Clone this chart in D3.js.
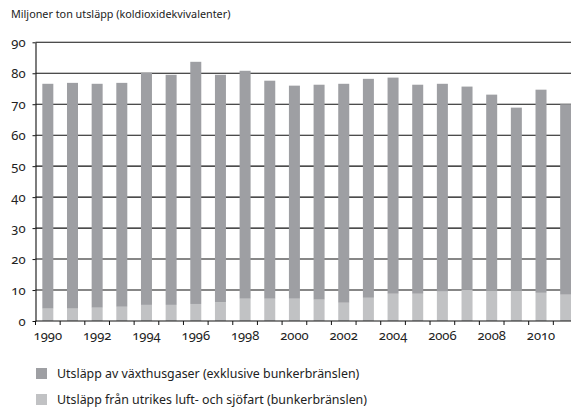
<!DOCTYPE html>
<html>
<head>
<meta charset="utf-8">
<script src="https://cdn.jsdelivr.net/npm/d3@7"></script>
<style>
  html, body { margin: 0; padding: 0; background: #fff; }
  svg { display: block; font-family: "Noto Sans", "Open Sans", sans-serif; }
  .num { font-variant-numeric: oldstyle-nums; font-feature-settings: "onum" 1; }
</style>
</head>
<body>
<div id="chart"></div>
<script>
// years shown on the x axis
var years = [1990, 1991, 1992, 1993, 1994, 1995, 1996, 1997, 1998, 1999, 2000,
             2001, 2002, 2003, 2004, 2005, 2006, 2007, 2008, 2009, 2010, 2011];
// greenhouse gas emissions excluding bunker fuels (Mt CO2e)
var domestic = [72.6, 72.9, 72.3, 72.3, 75.0, 74.3, 78.2, 73.4, 73.6, 70.4, 68.8,
                69.4, 70.7, 70.7, 69.8, 67.5, 67.1, 65.6, 63.3, 59.1, 65.6, 61.5];
// emissions from international aviation and shipping (bunker fuels)
var bunker = [4.0, 4.0, 4.3, 4.6, 5.2, 5.2, 5.5, 6.1, 7.2, 7.2, 7.2,
              6.9, 5.9, 7.5, 8.8, 8.8, 9.5, 10.1, 9.8, 9.8, 9.1, 8.5];
var yTicks = [0, 10, 20, 30, 40, 50, 60, 70, 80, 90];
var seriesNames = ["Utsläpp av växthusgaser (exklusive bunkerbränslen)",
                   "Utsläpp från utrikes luft- och sjöfart (bunkerbränslen)"];
var colors = ["#9e9fa3", "#c1c2c4"];

var W = 571, H = 409;
var mLeft = 35.5, mBottom = 321, mTop = 42.3, plotRight = 578;

var svg = d3.select("#chart").append("svg")
    .attr("width", W)
    .attr("height", H);

var x = d3.scaleBand()
    .domain(years)
    .range([mLeft, plotRight])
    .paddingInner(0.554)
    .paddingOuter(0.277);

var y = d3.scaleLinear()
    .domain([0, 90])
    .range([mBottom, mTop]);

// title
svg.append("text")
    .attr("x", 11)
    .attr("y", 18)
    .attr("font-size", "10.8px")
    .attr("fill", "#222")
    .text("Miljoner ton utsläpp (koldioxidekvivalenter)");

// gridlines
svg.append("g")
    .selectAll("line")
    .data(yTicks.filter(function (d) { return d > 0; }))
    .enter()
    .append("line")
    .attr("x1", mLeft)
    .attr("x2", W)
    .attr("y1", function (d) { return y(d); })
    .attr("y2", function (d) { return y(d); })
    .attr("stroke", "#111")
    .attr("stroke-width", 1.1);

// stacked bars: bunker at the bottom, domestic on top
var stackData = years.map(function (yr, i) {
    return { year: yr, bunker: bunker[i], domestic: domestic[i] };
});
var layers = d3.stack().keys(["bunker", "domestic"])(stackData);
var keyColor = { domestic: colors[0], bunker: colors[1] };

svg.append("g")
    .selectAll("g")
    .data(layers)
    .enter()
    .append("g")
    .attr("fill", function (d) { return keyColor[d.key]; })
    .selectAll("rect")
    .data(function (d) { return d; })
    .enter()
    .append("rect")
    .attr("x", function (d) { return x(d.data.year); })
    .attr("width", x.bandwidth())
    .attr("y", function (d) { return y(d[1]); })
    .attr("height", function (d) { return y(d[0]) - y(d[1]); });

// y axis
var yAxis = svg.append("g")
    .attr("class", "num")
    .attr("transform", "translate(" + mLeft + ",0)")
    .call(d3.axisLeft(y).tickValues(yTicks).tickSize(3).tickPadding(7).tickSizeOuter(0));
yAxis.select(".domain").attr("stroke", "#111").attr("stroke-width", 1.1);
yAxis.selectAll(".tick line").attr("stroke", "#111");
yAxis.selectAll("text").attr("font-size", "13px").attr("fill", "#222")
    .attr("font-family", "Noto Sans");

// x axis line
svg.append("line")
    .attr("x1", mLeft)
    .attr("x2", W)
    .attr("y1", mBottom)
    .attr("y2", mBottom)
    .attr("stroke", "#111")
    .attr("stroke-width", 1.1);

// x ticks at band boundaries
var step = x.step();
svg.append("g")
    .selectAll("line")
    .data(d3.range(years.length + 1))
    .enter()
    .append("line")
    .attr("x1", function (i) { return mLeft + i * step; })
    .attr("x2", function (i) { return mLeft + i * step; })
    .attr("y1", mBottom)
    .attr("y2", mBottom + 4)
    .attr("stroke", "#111");

// x labels every second year
svg.append("g")
    .attr("class", "num")
    .selectAll("text")
    .data(years.filter(function (d) { return d % 2 === 0; }))
    .enter()
    .append("text")
    .attr("x", function (d) { return x(d) + x.bandwidth() / 2; })
    .attr("y", mBottom + 19)
    .attr("text-anchor", "middle")
    .attr("font-size", "13px")
    .attr("fill", "#222")
    .text(function (d) { return d; });

// legend
var legend = svg.append("g")
    .selectAll("g")
    .data(seriesNames)
    .enter()
    .append("g")
    .attr("transform", function (d, i) { return "translate(36," + (368 + i * 26) + ")"; });
legend.append("rect")
    .attr("width", 11)
    .attr("height", 11)
    .attr("fill", function (d, i) { return colors[i]; });
legend.append("text")
    .attr("x", 21)
    .attr("y", 10)
    .attr("font-size", "12.4px")
    .attr("fill", "#222")
    .text(function (d) { return d; });
</script>
</body>
</html>
